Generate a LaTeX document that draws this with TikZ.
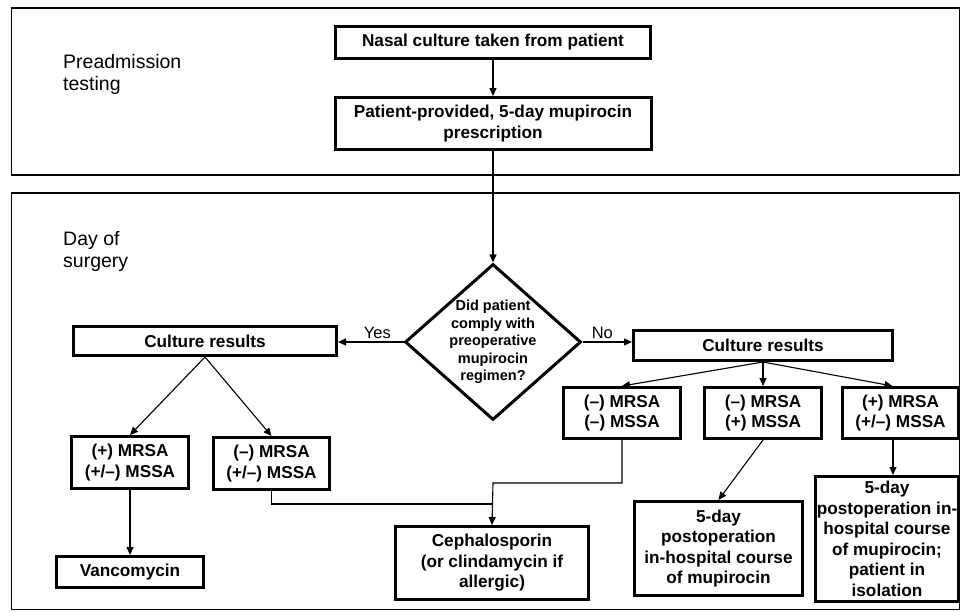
\documentclass[tikz,border=0pt]{standalone}
\usepackage{fontspec}
\setmainfont{Liberation Sans}
\usetikzlibrary{
  arrows.meta,
  positioning,
  shapes.geometric
}

\begin{document}
\begin{tikzpicture}[x=1pt, y=-1pt,
            frame/.style={draw, line width=1.5pt},
            phase/.style={font=\fontsize{19.5}{22}\selectfont, align=left, anchor=west, inner sep=0pt},
            flowbox/.style={draw, line width=3pt, font=\bfseries\fontsize{17.2}{20.5}\selectfont, align=center, inner sep=0pt},
            decision/.style={draw, diamond, aspect=1.1, line width=3pt, font=\bfseries\fontsize{14.5}{17.5}\selectfont, align=center, inner sep=-4pt, minimum width=176pt, minimum height=156pt},
            arr/.style={line width=1.1pt, -{Triangle[length=8pt, width=7pt]}},
            link/.style={line width=1.1pt},
            answer/.style={font=\fontsize{16.5}{18}\selectfont, above=3pt, inner sep=0pt}]
            \useasboundingbox (0,0) rectangle (961,611);
            % the two phases
            \draw [frame] (11.5,8) rectangle (959.5,175);
            \draw [frame] (11.5,193) rectangle (959.5,609.5);
            \node [phase] (pre) at (63,74) {Preadmission\\testing};
            \node [phase] (dos) at (63,251) {Day of\\surgery};
            % preadmission
            \node [flowbox, minimum width=315pt, minimum height=32pt] (nasal) at (493,42.5) {Nasal culture taken from patient};
            \node [flowbox, minimum width=316pt, minimum height=52pt] (presc) at (493,123.5) {Patient-provided, 5-day mupirocin\\prescription};
            % day of surgery
            \node [decision] (comply) at (493,342) {Did patient\\comply with\\preoperative\\mupirocin\\regimen?};
            \node [flowbox, minimum width=263pt, minimum height=29pt] (cultL) at (205,341) {Culture results};
            \node [flowbox, minimum width=259pt, minimum height=30pt] (cultR) at (763,345.5) {Culture results};
            \node [flowbox, minimum width=117pt, minimum height=52pt] (posL) at (130,462.5) {(+) MRSA\\(+/--) MSSA};
            \node [flowbox, minimum width=116pt, minimum height=52pt] (negL) at (271.5,463.5) {(--) MRSA\\(+/--) MSSA};
            \node [flowbox, minimum width=147pt, minimum height=31pt] (vanco) at (130,572) {Vancomycin};
            \node [flowbox, minimum width=193pt, minimum height=73pt] (cephalo) at (492,563) {Cephalosporin\\(or clindamycin if\\allergic)};
            \node [flowbox, minimum width=117pt, minimum height=51pt] (negneg) at (622,413) {(--) MRSA\\(--) MSSA};
            \node [flowbox, minimum width=117pt, minimum height=51pt] (negpos) at (763,413) {(--) MRSA\\(+) MSSA};
            \node [flowbox, minimum width=116pt, minimum height=51pt] (posR) at (900.5,413) {(+) MRSA\\(+/--) MSSA};
            \node [flowbox, minimum width=168pt, minimum height=94pt] (course) at (718.5,548.5) {5-day\\postoperation\\in-hospital course\\of mupirocin};
            \node [flowbox, minimum width=143pt, minimum height=125pt] (isol) at (887,539) {5-day\\postoperation in-\\hospital course\\of mupirocin;\\patient in\\isolation};
            \coordinate (jL) at (493,504);
            \coordinate (jR) at (493,483);
            % connectors
            \draw [arr] (nasal) -- (presc);
            \draw [arr] (presc) -- (comply);
            \draw [arr] (comply.west) -- node [answer, pos=0.4] (yes) {Yes} (comply.west -| cultL.east);
            \draw [arr] (comply.east) -- node [answer, pos=0.4] (no) {No} (comply.east -| cultR.west);
            \draw [arr] (cultL.south) -- (posL.north);
            \draw [arr] (cultL.south) -- (negL.north);
            \draw [arr] (posL) -- (vanco);
            \draw [link] (negL.south) |- (jL);
            \draw [arr] (negneg.south) |- (jR) -- (cephalo.north);
            \draw [arr] (cultR.south) -- (negneg.north);
            \draw [arr] (cultR.south) -- (negpos.north);
            \draw [arr] (cultR.south) -- ([xshift=-8pt]posR.north);
            \draw [arr] (negpos.south) -- (course.north);
            \draw [arr] ([xshift=-7.5pt]posR.south) -- ([xshift=-7.5pt]posR.south |- isol.north);
        \end{tikzpicture}
\end{document}
